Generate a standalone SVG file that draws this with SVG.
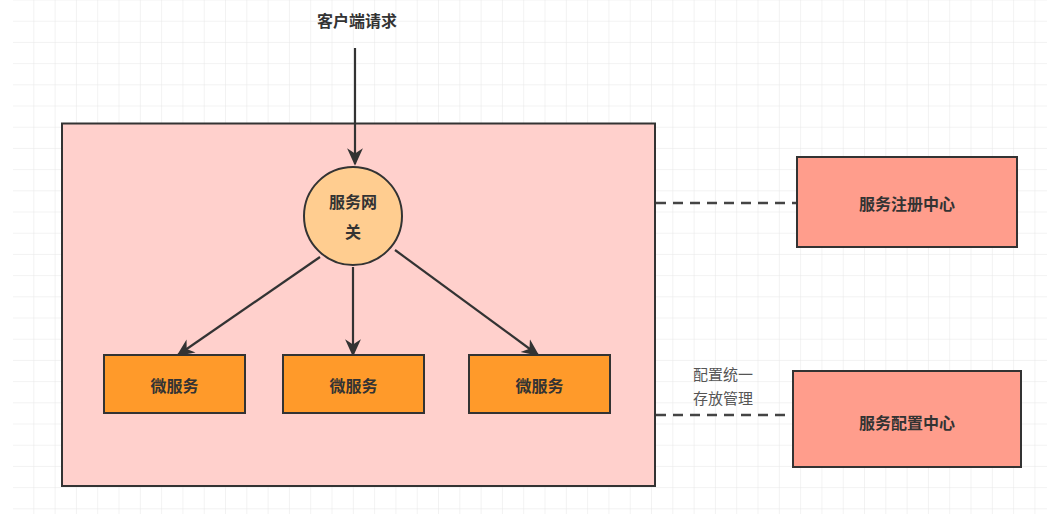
<svg xmlns="http://www.w3.org/2000/svg" width="1047" height="514" viewBox="0 0 1047 514">
<defs>
<pattern id="grid" x="13" y="0.5" width="21.3" height="21.2" patternUnits="userSpaceOnUse">
<path d="M21.3 0V21.2M0 21.2H21.3" fill="none" stroke="#e6e6e6" stroke-width="1"/>
</pattern>
<marker id="arr" viewBox="0 0 10 10" refX="9" refY="5" markerWidth="8" markerHeight="8" orient="auto" markerUnits="strokeWidth">
<path d="M0 0.5L10 5L0 9.5L3 5Z" fill="#333"/>
</marker>
<style>
text{font-family:"Noto Sans CJK SC","Noto Sans",sans-serif;font-size:16px;fill:#333;text-anchor:middle;dominant-baseline:central;font-weight:bold}
.box{stroke:#333;stroke-width:2}
.ms{fill:#ff9a2a}
.ctr{fill:#ff9d8c}
.edge{stroke:#333;stroke-width:2.2;fill:none;marker-end:url(#arr)}
.dash{stroke:#444;stroke-width:2.5;stroke-dasharray:10 7;fill:none}
.lbl{fill:#555;font-size:15px;font-weight:normal}
</style>
</defs>
<rect width="1047" height="514" fill="#fff"/>
<rect x="13" y="0" width="1034" height="514" fill="url(#grid)"/>
<g id="container"><rect class="box" x="62" y="123.5" width="593" height="362.5" fill="#ffd0cc"/></g>
<g id="connectors">
<path class="edge" d="M355 48V164"/>
<path class="edge" d="M320 257L178 355"/>
<path class="edge" d="M353 267V355"/>
<path class="edge" d="M395 250L538 355"/>
<path class="dash" d="M656 203H797"/>
<path class="dash" d="M656 415H793"/>
</g>
<g id="client"><text x="357" y="20">客户端请求</text></g>
<g id="gateway"><circle class="box" cx="353" cy="216" r="49" fill="#ffcd90"/><text x="353" y="201">服务网</text><text x="353" y="231">关</text></g>
<g id="ms1"><rect class="box ms" x="104" y="355" width="141" height="58"/><text x="174.5" y="385">微服务</text></g>
<g id="ms2"><rect class="box ms" x="283" y="355" width="141" height="58"/><text x="353.5" y="385">微服务</text></g>
<g id="ms3"><rect class="box ms" x="469" y="355" width="141" height="58"/><text x="539.5" y="385">微服务</text></g>
<g id="registry"><rect class="box ctr" x="797" y="157" width="220" height="90"/><text x="907" y="203">服务注册中心</text></g>
<g id="config"><rect class="box ctr" x="793" y="371" width="228" height="96"/><text x="907" y="422">服务配置中心</text></g>
<g id="config-label"><text class="lbl" x="723" y="373">配置统一</text><text class="lbl" x="723" y="397">存放管理</text></g>
</svg>
